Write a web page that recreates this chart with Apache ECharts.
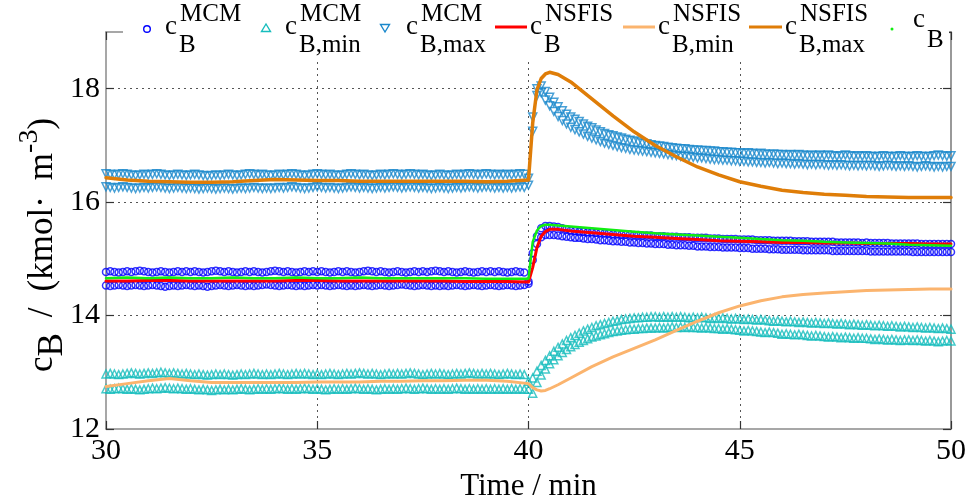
<!DOCTYPE html>
<html>
<head>
<meta charset="utf-8">
<script src="https://cdn.jsdelivr.net/npm/echarts@6/dist/echarts.min.js"></script>
<style>
  html, body { margin: 0; padding: 0; background: #ffffff; }
  #chart { width: 970px; height: 497px; }
</style>
</head>
<body>
<div id="chart"></div>
<script>
// Sampling instants of the Monte Carlo (MCM) estimates, in minutes
const mcmTime = [
  30,30.1,30.2,30.3,30.4,30.5,30.6,30.7,30.8,30.9,
  31,31.1,31.2,31.3,31.4,31.5,31.6,31.7,31.8,31.9,
  32,32.1,32.2,32.3,32.4,32.5,32.6,32.7,32.8,32.9,
  33,33.1,33.2,33.3,33.4,33.5,33.6,33.7,33.8,33.9,
  34,34.1,34.2,34.3,34.4,34.5,34.6,34.7,34.8,34.9,
  35,35.1,35.2,35.3,35.4,35.5,35.6,35.7,35.8,35.9,
  36,36.1,36.2,36.3,36.4,36.5,36.6,36.7,36.8,36.9,
  37,37.1,37.2,37.3,37.4,37.5,37.6,37.7,37.8,37.9,
  38,38.1,38.2,38.3,38.4,38.5,38.6,38.7,38.8,38.9,
  39,39.1,39.2,39.3,39.4,39.5,39.6,39.7,39.8,39.9,
  40,40.1,40.2,40.3,40.4,40.5,40.6,40.7,40.8,40.9,
  41,41.1,41.2,41.3,41.4,41.5,41.6,41.7,41.8,41.9,
  42,42.1,42.2,42.3,42.4,42.5,42.6,42.7,42.8,42.9,
  43,43.1,43.2,43.3,43.4,43.5,43.6,43.7,43.8,43.9,
  44,44.1,44.2,44.3,44.4,44.5,44.6,44.7,44.8,44.9,
  45,45.1,45.2,45.3,45.4,45.5,45.6,45.7,45.8,45.9,
  46,46.1,46.2,46.3,46.4,46.5,46.6,46.7,46.8,46.9,
  47,47.1,47.2,47.3,47.4,47.5,47.6,47.7,47.8,47.9,
  48,48.1,48.2,48.3,48.4,48.5,48.6,48.7,48.8,48.9,
  49,49.1,49.2,49.3,49.4,49.5,49.6,49.7,49.8,49.9,
  50
];

// MCM estimate of c_B: upper and lower sample rows (kmol/m3)
const mcmBHi = [
  14.77,14.78,14.77,14.76,14.77,14.78,14.77,14.78,14.79,14.78,
  14.77,14.76,14.77,14.78,14.77,14.76,14.77,14.78,14.77,14.78,
  14.77,14.78,14.77,14.76,14.77,14.78,14.79,14.78,14.77,14.78,
  14.77,14.76,14.77,14.78,14.77,14.78,14.77,14.76,14.77,14.78,
  14.79,14.78,14.77,14.78,14.77,14.76,14.77,14.78,14.77,14.78,
  14.77,14.78,14.77,14.76,14.77,14.78,14.77,14.78,14.77,14.76,
  14.77,14.78,14.79,14.78,14.77,14.78,14.77,14.76,14.77,14.78,
  14.77,14.76,14.77,14.78,14.77,14.78,14.77,14.78,14.79,14.78,
  14.77,14.78,14.77,14.76,14.77,14.78,14.77,14.76,14.77,14.78,
  14.77,14.78,14.77,14.78,14.77,14.76,14.77,14.78,14.77,14.76,
  14.60,15.10,15.40,15.54,15.58,15.58,15.57,15.56,15.54,15.52,
  15.50,15.49,15.48,15.48,15.47,15.47,15.46,15.46,15.45,15.45,
  15.44,15.44,15.43,15.43,15.43,15.42,15.42,15.41,15.41,15.41,
  15.40,15.40,15.40,15.39,15.39,15.39,15.38,15.38,15.38,15.37,
  15.37,15.37,15.37,15.36,15.36,15.36,15.35,15.35,15.35,15.35,
  15.34,15.34,15.34,15.34,15.33,15.33,15.33,15.33,15.32,15.32,
  15.32,15.32,15.32,15.31,15.31,15.31,15.31,15.30,15.30,15.30,
  15.30,15.30,15.30,15.29,15.29,15.29,15.29,15.29,15.29,15.28,
  15.29,15.28,15.28,15.28,15.28,15.28,15.27,15.27,15.27,15.27,
  15.27,15.27,15.27,15.26,15.26,15.26,15.26,15.26,15.26,15.26,
  15.26
];
const mcmBLo = [
  14.53,14.52,14.53,14.54,14.53,14.52,14.53,14.54,14.53,14.52,
  14.53,14.54,14.53,14.52,14.51,14.52,14.53,14.52,14.53,14.54,
  14.53,14.52,14.53,14.52,14.51,14.52,14.53,14.54,14.53,14.52,
  14.53,14.54,14.53,14.52,14.53,14.52,14.53,14.54,14.55,14.54,
  14.53,14.52,14.53,14.54,14.53,14.52,14.53,14.52,14.53,14.54,
  14.53,14.54,14.53,14.52,14.53,14.54,14.53,14.52,14.53,14.52,
  14.53,14.54,14.53,14.52,14.53,14.54,14.53,14.52,14.53,14.54,
  14.55,14.54,14.53,14.52,14.53,14.54,14.53,14.52,14.53,14.52,
  14.53,14.52,14.53,14.54,14.53,14.52,14.53,14.54,14.53,14.52,
  14.53,14.54,14.53,14.52,14.53,14.54,14.53,14.52,14.53,14.54,
  14.56,14.98,15.26,15.38,15.42,15.42,15.42,15.41,15.40,15.39,
  15.38,15.37,15.37,15.36,15.35,15.35,15.34,15.33,15.33,15.32,
  15.31,15.31,15.30,15.30,15.29,15.29,15.28,15.28,15.27,15.27,
  15.26,15.26,15.26,15.25,15.25,15.24,15.24,15.24,15.23,15.23,
  15.22,15.22,15.22,15.21,15.21,15.21,15.20,15.20,15.20,15.20,
  15.19,15.19,15.19,15.18,15.18,15.18,15.18,15.17,15.17,15.17,
  15.16,15.16,15.16,15.16,15.16,15.15,15.15,15.15,15.15,15.15,
  15.15,15.15,15.14,15.14,15.14,15.14,15.14,15.14,15.14,15.14,
  15.14,15.13,15.13,15.13,15.13,15.13,15.13,15.13,15.13,15.13,
  15.13,15.12,15.12,15.12,15.12,15.12,15.12,15.12,15.12,15.12,
  15.12
];

// MCM lower bound c_B,min: upper and lower sample rows
const mcmMinHi = [
  12.97,12.98,12.97,12.96,12.97,12.98,12.99,12.98,12.97,12.98,
  12.99,12.98,12.99,13.00,12.99,12.98,12.99,12.98,12.97,12.98,
  12.97,12.96,12.97,12.96,12.95,12.96,12.97,12.96,12.97,12.96,
  12.95,12.96,12.97,12.96,12.97,12.98,12.97,12.96,12.97,12.96,
  12.97,12.98,12.97,12.96,12.97,12.98,12.97,12.98,12.97,12.96,
  12.97,12.96,12.97,12.98,12.97,12.96,12.97,12.98,12.97,12.98,
  12.99,12.98,12.97,12.98,12.97,12.96,12.97,12.98,12.97,12.98,
  12.97,12.98,12.99,12.98,12.97,12.96,12.97,12.98,12.97,12.98,
  12.97,12.96,12.97,12.98,12.97,12.98,12.99,12.98,12.97,12.98,
  12.97,12.98,12.97,12.96,12.97,12.98,12.97,12.96,12.97,12.96,
  12.84,12.90,13.02,13.12,13.21,13.29,13.37,13.44,13.50,13.56,
  13.61,13.65,13.69,13.73,13.76,13.79,13.82,13.84,13.86,13.88,
  13.90,13.91,13.93,13.94,13.95,13.96,13.96,13.97,13.97,13.98,
  13.98,13.97,13.98,13.97,13.98,13.97,13.98,13.97,13.96,13.97,
  13.96,13.97,13.96,13.95,13.96,13.95,13.96,13.95,13.94,13.95,
  13.94,13.93,13.94,13.93,13.92,13.93,13.92,13.91,13.90,13.91,
  13.90,13.89,13.90,13.89,13.88,13.89,13.88,13.87,13.88,13.87,
  13.86,13.87,13.86,13.85,13.86,13.85,13.84,13.85,13.84,13.83,
  13.84,13.83,13.82,13.83,13.82,13.81,13.82,13.81,13.80,13.81,
  13.80,13.79,13.80,13.79,13.78,13.79,13.78,13.77,13.78,13.77,
  13.76
];
const mcmMinLo = [
  12.71,12.70,12.71,12.72,12.71,12.70,12.71,12.70,12.69,12.70,
  12.71,12.72,12.71,12.72,12.73,12.72,12.71,12.72,12.71,12.70,
  12.71,12.70,12.69,12.70,12.69,12.68,12.69,12.70,12.69,12.70,
  12.69,12.70,12.71,12.70,12.69,12.70,12.71,12.70,12.71,12.70,
  12.71,12.72,12.71,12.70,12.71,12.70,12.71,12.72,12.71,12.70,
  12.71,12.70,12.69,12.70,12.71,12.70,12.71,12.70,12.71,12.72,
  12.71,12.70,12.71,12.70,12.69,12.70,12.71,12.70,12.71,12.70,
  12.71,12.72,12.71,12.70,12.71,12.72,12.71,12.70,12.71,12.70,
  12.71,12.70,12.71,12.72,12.71,12.70,12.71,12.70,12.71,12.70,
  12.71,12.70,12.71,12.70,12.71,12.70,12.71,12.70,12.71,12.70,
  12.70,12.63,12.82,12.95,13.06,13.15,13.22,13.29,13.35,13.40,
  13.45,13.49,13.53,13.56,13.59,13.62,13.64,13.66,13.68,13.70,
  13.72,13.73,13.74,13.75,13.76,13.76,13.77,13.77,13.78,13.78,
  13.78,13.79,13.78,13.79,13.80,13.79,13.80,13.79,13.80,13.79,
  13.79,13.78,13.79,13.78,13.77,13.77,13.76,13.77,13.76,13.75,
  13.74,13.73,13.74,13.73,13.72,13.71,13.70,13.71,13.70,13.69,
  13.67,13.68,13.67,13.66,13.67,13.66,13.65,13.64,13.65,13.64,
  13.63,13.62,13.63,13.62,13.61,13.62,13.61,13.60,13.61,13.60,
  13.60,13.59,13.58,13.59,13.58,13.57,13.58,13.57,13.56,13.57,
  13.57,13.56,13.57,13.56,13.55,13.56,13.55,13.54,13.55,13.56,
  13.55
];

// MCM upper bound c_B,max: upper and lower sample rows
const mcmMaxHi = [
  16.50,16.49,16.48,16.49,16.50,16.49,16.48,16.47,16.48,16.49,
  16.48,16.49,16.50,16.49,16.48,16.47,16.48,16.49,16.48,16.47,
  16.48,16.49,16.48,16.47,16.46,16.47,16.48,16.47,16.48,16.49,
  16.48,16.47,16.48,16.49,16.50,16.49,16.48,16.49,16.48,16.47,
  16.48,16.49,16.48,16.49,16.50,16.49,16.48,16.47,16.48,16.49,
  16.50,16.49,16.48,16.49,16.48,16.47,16.48,16.49,16.50,16.49,
  16.48,16.49,16.48,16.47,16.48,16.49,16.48,16.49,16.50,16.49,
  16.48,16.49,16.50,16.49,16.48,16.49,16.48,16.47,16.48,16.49,
  16.48,16.47,16.48,16.49,16.48,16.49,16.50,16.49,16.48,16.49,
  16.50,16.49,16.48,16.49,16.48,16.49,16.48,16.49,16.50,16.49,
  16.42,17.50,18.00,18.05,17.95,17.85,17.76,17.68,17.61,17.55,
  17.50,17.46,17.42,17.38,17.34,17.31,17.27,17.24,17.21,17.19,
  17.17,17.15,17.13,17.11,17.09,17.08,17.06,17.04,17.03,17.01,
  17.00,16.99,16.98,16.97,16.96,16.95,16.94,16.94,16.93,16.92,
  16.92,16.91,16.91,16.90,16.90,16.89,16.89,16.88,16.88,16.87,
  16.87,16.86,16.87,16.86,16.85,16.86,16.85,16.84,16.85,16.84,
  16.84,16.83,16.84,16.83,16.84,16.83,16.82,16.83,16.82,16.83,
  16.82,16.83,16.82,16.81,16.82,16.83,16.82,16.81,16.82,16.81,
  16.82,16.81,16.80,16.81,16.82,16.81,16.80,16.81,16.82,16.81,
  16.80,16.81,16.82,16.81,16.80,16.81,16.82,16.83,16.82,16.81,
  16.82
];
const mcmMaxLo = [
  16.27,16.26,16.25,16.26,16.27,16.26,16.25,16.24,16.25,16.26,
  16.25,16.26,16.27,16.26,16.25,16.24,16.25,16.26,16.25,16.24,
  16.25,16.24,16.23,16.24,16.25,16.24,16.23,16.24,16.25,16.24,
  16.23,16.24,16.25,16.24,16.25,16.26,16.25,16.24,16.25,16.24,
  16.25,16.26,16.25,16.26,16.27,16.26,16.25,16.24,16.25,16.26,
  16.27,16.26,16.25,16.26,16.25,16.24,16.25,16.26,16.27,16.26,
  16.25,16.26,16.25,16.24,16.25,16.26,16.25,16.26,16.27,16.26,
  16.25,16.26,16.27,16.26,16.25,16.26,16.25,16.24,16.25,16.26,
  16.25,16.24,16.25,16.26,16.25,16.26,16.27,16.26,16.25,16.26,
  16.27,16.26,16.25,16.26,16.25,16.26,16.25,16.26,16.27,16.26,
  16.30,17.25,17.88,17.93,17.80,17.70,17.60,17.51,17.44,17.38,
  17.32,17.28,17.24,17.20,17.16,17.13,17.10,17.07,17.04,17.02,
  17.00,16.98,16.96,16.95,16.93,16.92,16.91,16.90,16.89,16.88,
  16.87,16.86,16.85,16.84,16.83,16.82,16.81,16.81,16.80,16.79,
  16.78,16.78,16.77,16.76,16.75,16.75,16.74,16.74,16.73,16.73,
  16.72,16.72,16.71,16.71,16.70,16.70,16.69,16.70,16.69,16.68,
  16.69,16.68,16.68,16.67,16.68,16.67,16.66,16.67,16.66,16.67,
  16.66,16.65,16.66,16.65,16.66,16.65,16.64,16.65,16.64,16.65,
  16.64,16.65,16.64,16.63,16.64,16.65,16.64,16.63,16.64,16.63,
  16.64,16.63,16.62,16.63,16.64,16.63,16.62,16.63,16.62,16.63,
  16.63
];

// NSFIS trajectories and the true concentration, in minutes / kmol per m3
const nsfisTime = [30,30.5,31,31.5,32,32.5,33,33.5,34,34.5,35,35.5,36,36.5,37,37.5,38,38.5,39,39.5,
  40,40.1,40.2,40.3,40.4,40.5,40.7,41,41.5,42,42.5,43,43.5,44,44.5,45,45.5,46,46.5,47,47.5,48,48.5,49,49.5,50];
const nsfisB = [14.61,14.61,14.62,14.62,14.61,14.61,14.61,14.61,14.61,14.62,14.62,14.61,14.61,14.61,14.61,14.61,14.61,14.60,14.60,14.60,
  14.59,14.85,15.20,15.40,15.48,15.52,15.52,15.49,15.46,15.43,15.40,15.38,15.36,15.34,15.32,15.31,15.30,15.29,15.29,15.28,15.28,15.27,15.27,15.27,15.26,15.26];
const nsfisMin = [12.75,12.80,12.85,12.89,12.85,12.82,12.82,12.82,12.82,12.82,12.83,12.83,12.83,12.84,12.84,12.85,12.85,12.86,12.86,12.84,
  12.80,12.73,12.69,12.67,12.68,12.71,12.78,12.90,13.10,13.27,13.42,13.57,13.74,13.90,14.05,14.17,14.26,14.33,14.37,14.40,14.42,14.44,14.45,14.46,14.47,14.47];
const nsfisMax = [16.43,16.39,16.37,16.36,16.35,16.35,16.36,16.38,16.40,16.39,16.38,16.38,16.37,16.37,16.37,16.37,16.37,16.37,16.36,16.37,
  16.39,17.40,17.98,18.18,18.26,18.29,18.25,18.12,17.82,17.52,17.24,17.00,16.80,16.62,16.48,16.36,16.28,16.21,16.17,16.14,16.12,16.10,16.09,16.08,16.08,16.08];
const trueB = [14.66,14.67,14.66,14.67,14.66,14.66,14.67,14.66,14.66,14.67,14.66,14.66,14.67,14.66,14.66,14.66,14.66,14.66,14.65,14.65,
  14.65,15.30,15.50,15.58,15.60,15.60,15.59,15.57,15.54,15.51,15.48,15.45,15.43,15.41,15.39,15.37,15.35,15.33,15.32,15.30,15.29,15.28,15.27,15.25,15.24,15.23];

const FONT = 'Liberation Serif';
const C_MCM = '#0000ff';
const C_MIN = '#17bdbd';
const C_MAX = '#1a88cc';
const C_RED = '#ff0000';
const C_LO = '#fbb46e';
const C_HI = '#df7d08';
const C_TRUE = '#11ee11';

function rows(times, hi, lo) {
  const pts = [];
  for (let i = 0; i < times.length; i++) pts.push([times[i], hi[i]]);
  for (let i = 0; i < times.length; i++) pts.push([times[i], lo[i]]);
  return pts;
}
function pairs(times, vals) {
  return times.map((t, i) => [t, vals[i]]);
}

function markerSeries(data, color, symbol, rotate, size, z) {
  return {
    type: 'scatter', data, symbol, symbolRotate: rotate, symbolSize: size,
    clip: false, z, silent: true,
    itemStyle: { color: 'rgba(0,0,0,0)', borderColor: color, borderWidth: 1.5 }
  };
}
function lineSeries(data, color, width, z) {
  return {
    type: 'line', data, showSymbol: false, smooth: false,
    z, silent: true, lineStyle: { color, width, join: 'round', cap: 'round' }
  };
}

// Legend: marker / line sample followed by c with stacked super- and subscripts
const legendItems = [
  { icon: 'circle', color: C_MCM, ix: 147, iy: 29, cx: 165, sx: 180, sup: 'MCM', sub: 'B' },
  { icon: 'up', color: C_MIN, ix: 266, iy: 28, cx: 285, sx: 300, sup: 'MCM', sub: 'B,min' },
  { icon: 'down', color: C_MAX, ix: 385, iy: 28, cx: 406, sx: 421, sup: 'MCM', sub: 'B,max' },
  { icon: 'line', color: C_RED, ix: 495, ix2: 527, iy: 27, cx: 530, sx: 545, sup: 'NSFIS', sub: 'B' },
  { icon: 'line', color: C_LO, ix: 623, ix2: 655, iy: 27, cx: 658, sx: 673, sup: 'NSFIS', sub: 'B,min' },
  { icon: 'line', color: C_HI, ix: 749, ix2: 782, iy: 27, cx: 785, sx: 800, sup: 'NSFIS', sub: 'B,max' },
  { icon: 'dot', color: C_TRUE, ix: 892, iy: 29, cx: 913, sx: 927, sup: null, sub: 'B' }
];

function txt(x, y, text, size) {
  return { type: 'text', x, y, z: 110,
    style: { text, font: size + 'px "' + FONT + '"', fill: '#000', align: 'left', verticalAlign: 'middle' } };
}

function legendGraphics() {
  const g = [{ type: 'rect', z: 100, shape: { x: 123, y: 0, width: 826, height: 61 }, style: { fill: '#ffffff' } }];
  legendItems.forEach(it => {
    if (it.icon === 'circle') {
      g.push({ type: 'circle', z: 110, shape: { cx: it.ix, cy: it.iy, r: 3.3 }, style: { fill: 'none', stroke: it.color, lineWidth: 1.4 } });
    } else if (it.icon === 'up' || it.icon === 'down') {
      const d = it.icon === 'up' ? 1 : -1;
      g.push({ type: 'polygon', z: 110,
        shape: { points: [[it.ix - 4.5, it.iy + 3.5 * d], [it.ix + 4.5, it.iy + 3.5 * d], [it.ix, it.iy - 4 * d]] },
        style: { fill: 'none', stroke: it.color, lineWidth: 1.4 } });
    } else if (it.icon === 'line') {
      g.push({ type: 'line', z: 110, shape: { x1: it.ix, y1: it.iy, x2: it.ix2, y2: it.iy }, style: { stroke: it.color, lineWidth: 3 } });
    } else {
      g.push({ type: 'circle', z: 110, shape: { cx: it.ix, cy: it.iy, r: 1.5 }, style: { fill: it.color } });
    }
    if (it.sup) {
      g.push(txt(it.cx, 27, 'c', 27));
      g.push(txt(it.sx, 14.5, it.sup, 25));
      g.push(txt(it.sx - 1, 45.5, it.sub, 25));
    } else {
      g.push(txt(it.cx, 20, 'c', 27));
      g.push(txt(it.sx, 40.5, it.sub, 25));
    }
  });
  // Rotated y-axis title with subscript and superscript
  g.push({
    type: 'text', x: 43, y: 245, rotation: Math.PI / 2, z: 110,
    style: {
      text: '{n|c}{s|B}{g| }{n|/}{g| }{n|(kmol·}{g| }{n|m}{p|-3}{n|)}',
      align: 'center', verticalAlign: 'middle',
      rich: {
        n: { fontFamily: FONT, fontSize: 35, lineHeight: 54, verticalAlign: 'middle', color: '#000' },
        s: { fontFamily: FONT, fontSize: 35, lineHeight: 34, verticalAlign: 'bottom', color: '#000' },
        p: { fontFamily: FONT, fontSize: 28, lineHeight: 27, verticalAlign: 'top', color: '#000' },
        g: { fontFamily: FONT, fontSize: 35, width: 16, lineHeight: 54 }
      }
    }
  });
  return g;
}

const axisText = { fontFamily: FONT, fontSize: 30, color: '#000' };
const frameLine = { show: true, lineStyle: { color: '#8a8a8a', width: 1.5 } };
const tickIn = { show: true, inside: true, length: 8, lineStyle: { color: '#333', width: 1.2 } };
const dotted = { show: true, showMinLine: false, showMaxLine: false, lineStyle: { color: '#555', width: 1, type: [2, 4] } };

const option = {
  animation: false,
  backgroundColor: '#ffffff',
  grid: { left: 106, right: 19, top: 32, bottom: 68, containLabel: false, outerBoundsMode: 'none' },
  xAxis: [
    { type: 'value', min: 30, max: 50, interval: 5, position: 'bottom',
      axisLine: frameLine, axisTick: tickIn, splitLine: dotted,
      axisLabel: Object.assign({ margin: 7 }, axisText),
      name: 'Time / min', nameLocation: 'middle', nameGap: 28,
      nameTextStyle: { fontFamily: FONT, fontSize: 31, color: '#000' } },
    { type: 'value', min: 30, max: 50, interval: 5, position: 'top',
      axisLine: frameLine, axisTick: tickIn, splitLine: { show: false }, axisLabel: { show: false } }
  ],
  yAxis: [
    { type: 'value', min: 12, max: 19, interval: 2, position: 'left',
      axisLine: frameLine, axisTick: tickIn, splitLine: dotted,
      axisLabel: Object.assign({ margin: 6, showMaxLabel: false, formatter: v => (v % 2 === 0 ? String(v) : '') }, axisText) },
    { type: 'value', min: 12, max: 19, interval: 2, position: 'right',
      axisLine: { show: true, lineStyle: { color: '#999', width: 2 } }, axisTick: tickIn,
      splitLine: { show: false }, axisLabel: { show: false } }
  ],
  series: [
    markerSeries(rows(mcmTime, mcmBHi, mcmBLo), C_MCM, 'circle', 0, 7, 2),
    markerSeries(rows(mcmTime, mcmMinHi, mcmMinLo), C_MIN, 'triangle', 0, 8, 3),
    markerSeries(rows(mcmTime, mcmMaxHi, mcmMaxLo), C_MAX, 'triangle', 180, 8, 4),
    lineSeries(pairs(nsfisTime, nsfisB), C_RED, 3, 5),
    lineSeries(pairs(nsfisTime, nsfisMin), C_LO, 3, 6),
    lineSeries(pairs(nsfisTime, nsfisMax), C_HI, 3.5, 7),
    lineSeries(pairs(nsfisTime, trueB), C_TRUE, 2.5, 8)
  ],
  graphic: legendGraphics()
};

const chart = echarts.init(document.getElementById('chart'), null, { renderer: 'canvas' });
chart.setOption(option);
</script>
</body>
</html>
